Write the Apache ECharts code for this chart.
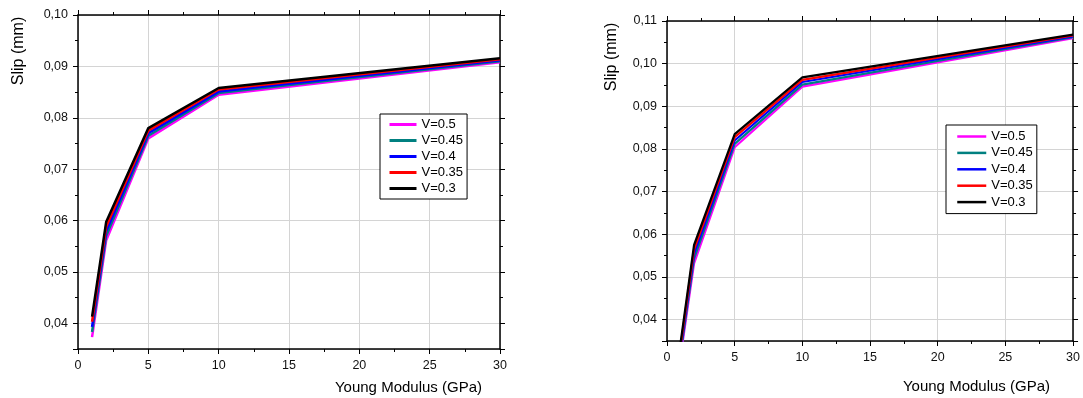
<!DOCTYPE html>
<html>
<head>
<meta charset="utf-8">
<script src="https://cdn.jsdelivr.net/npm/echarts@6/dist/echarts.min.js"></script>
<style>
  html, body { margin: 0; padding: 0; background: #fff; }
  #chart { width: 1083px; height: 398px; }
</style>
</head>
<body>
<div id="chart"></div>
<script>
// Young modulus (GPa)
const modulus = [1, 2, 5, 10, 30];
const seriesNames = ['V=0.5', 'V=0.45', 'V=0.4', 'V=0.35', 'V=0.3'];
const seriesColors = ['#ff00ff', '#008080', '#0000ff', '#ff0000', '#000000'];

// left chart: slip (mm)
const slipLeft05 = [0.0373, 0.0561, 0.0760, 0.0845, 0.0908];
const slipLeft045 = [0.0383, 0.0570, 0.0765, 0.0848, 0.0910];
const slipLeft04 = [0.0393, 0.0579, 0.0770, 0.0851, 0.0912];
const slipLeft035 = [0.0403, 0.0588, 0.0775, 0.0855, 0.0914];
const slipLeft03 = [0.0413, 0.0597, 0.0780, 0.0858, 0.0916];

// right chart: slip (mm)
const slipRight05 = [0.0313, 0.0532, 0.0804, 0.0946, 0.1060];
const slipRight045 = [0.0321, 0.0543, 0.0812, 0.0951, 0.1062];
const slipRight04 = [0.0329, 0.0554, 0.0820, 0.0957, 0.1064];
const slipRight035 = [0.0337, 0.0565, 0.0828, 0.0962, 0.1066];
const slipRight03 = [0.0345, 0.0575, 0.0835, 0.0968, 0.1068];

const leftSets = [slipLeft05, slipLeft045, slipLeft04, slipLeft035, slipLeft03];
const rightSets = [slipRight05, slipRight045, slipRight04, slipRight035, slipRight03];

const FONT = '"Liberation Sans", Arial, sans-serif';

// 0,04 style labels, only at whole hundredths
const slipLabel = (v) => {
  const r = Math.round(v * 100);
  if (Math.abs(v * 100 - r) > 1e-6) return '';
  return (r / 100).toFixed(2).replace('.', ',');
};

const chart = echarts.init(document.getElementById('chart'));

function makeX(gridIndex, top) {
  return {
    type: 'value',
    gridIndex: gridIndex,
    position: top ? 'top' : 'bottom',
    min: 0,
    max: 30,
    interval: 5,
    axisLine: { show: true, onZero: false, lineStyle: { color: '#000', width: 1.5 } },
    axisTick: { show: true, inside: false, length: 5, lineStyle: { color: '#000', width: 1 } },
    minorTick: { show: true, splitNumber: 2, length: 3, lineStyle: { color: '#000', width: 1 } },
    axisLabel: top ? { show: false } : {
      show: true, margin: 10, color: '#111', fontSize: 12.5, fontFamily: FONT
    },
    splitLine: { show: !top, lineStyle: { color: '#d4d4d4', width: 1 } }
  };
}

function makeY(gridIndex, max, splitNumber, right) {
  return {
    type: 'value',
    gridIndex: gridIndex,
    position: right ? 'right' : 'left',
    min: 0.035,
    max: max,
    splitNumber: splitNumber,
    axisLine: { show: true, onZero: false, lineStyle: { color: '#000', width: 1.5 } },
    axisTick: { show: true, inside: false, length: 5, lineStyle: { color: '#000', width: 1 } },
    minorTick: { show: true, splitNumber: 2, length: 3, lineStyle: { color: '#000', width: 1 } },
    axisLabel: right ? { show: false } : {
      show: true, margin: 10, color: '#111', fontSize: 12.5, fontFamily: FONT,
      formatter: slipLabel
    },
    splitLine: { show: !right, lineStyle: { color: '#d4d4d4', width: 1 } }
  };
}

const series = [];
leftSets.forEach((vals, i) => {
  series.push({
    name: seriesNames[i],
    type: 'line',
    xAxisIndex: 0,
    yAxisIndex: 0,
    symbol: 'none',
    data: modulus.map((x, k) => [x, vals[k]]),
    lineStyle: { color: seriesColors[i], width: 2.5 },
    itemStyle: { color: seriesColors[i] }
  });
});
rightSets.forEach((vals, i) => {
  series.push({
    name: seriesNames[i],
    type: 'line',
    xAxisIndex: 2,
    yAxisIndex: 2,
    symbol: 'none',
    data: modulus.map((x, k) => [x, vals[k]]),
    lineStyle: { color: seriesColors[i], width: 2.2 },
    itemStyle: { color: seriesColors[i] }
  });
});

const legendText = { color: '#000', fontSize: 13, fontFamily: FONT };

const option = {
  animation: false,
  backgroundColor: '#fff',
  grid: [
    { left: 78, top: 15, width: 422, height: 334 },
    { left: 667, top: 21, width: 410, height: 320 }
  ],
  xAxis: [makeX(0, false), makeX(0, true), makeX(1, false), makeX(1, true)],
  yAxis: [makeY(0, 0.10, 6, false), makeY(0, 0.10, 6, true), makeY(1, 0.11, 7, false), makeY(1, 0.11, 7, true)],
  legend: [
    {
      data: seriesNames,
      orient: 'vertical',
      left: 380,
      top: 114,
      padding: [4, 4, 4, 8],
      itemWidth: 27,
      itemHeight: 14,
      itemGap: 3,
      borderColor: '#000',
      borderWidth: 1,
      backgroundColor: '#fff',
      itemStyle: { opacity: 0 },
      lineStyle: { width: 3 },
      textStyle: legendText
    },
    {
      data: seriesNames,
      orient: 'vertical',
      left: 946,
      top: 125,
      padding: [5, 4, 5, 10],
      itemWidth: 29,
      itemHeight: 14,
      itemGap: 3.4,
      borderColor: '#000',
      borderWidth: 1,
      backgroundColor: '#fff',
      itemStyle: { opacity: 0 },
      lineStyle: { width: 2.5 },
      textStyle: legendText
    }
  ],
  graphic: [
    { type: 'text', x: 19, y: 51, rotation: Math.PI / 2,
      style: { text: 'Slip (mm)', font: '16px ' + FONT, fill: '#000', align: 'center', verticalAlign: 'middle' } },
    { type: 'text', x: 482, y: 388,
      style: { text: 'Young Modulus (GPa)', font: '15px ' + FONT, fill: '#000', align: 'right', verticalAlign: 'middle' } },
    { type: 'text', x: 612, y: 57, rotation: Math.PI / 2,
      style: { text: 'Slip (mm)', font: '16px ' + FONT, fill: '#000', align: 'center', verticalAlign: 'middle' } },
    { type: 'text', x: 1050, y: 387,
      style: { text: 'Young Modulus (GPa)', font: '15px ' + FONT, fill: '#000', align: 'right', verticalAlign: 'middle' } }
  ],
  series: series
};

chart.setOption(option);
</script>
</body>
</html>
